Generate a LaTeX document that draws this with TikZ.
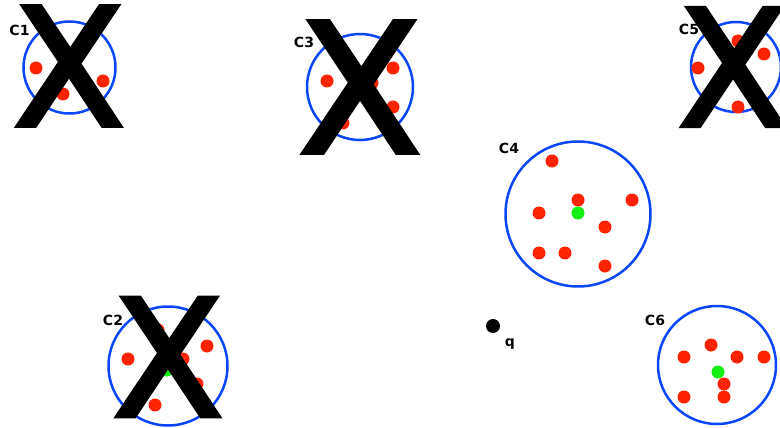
\documentclass[tikz,border=0pt]{standalone}
\usepackage{fontspec}
\setmainfont{DejaVu Sans}
\newfontfamily\crossfont[FakeBold=2.5]{DejaVu Sans}
\usepackage{xcolor}

\definecolor{ringblue}{RGB}{10,70,250}
\definecolor{ptred}{RGB}{255,35,0}
\definecolor{ctrgreen}{RGB}{20,240,20}

\begin{document}
\begin{tikzpicture}[x=1pt,y=-1pt,
  ring/.style={draw=ringblue,line width=2.5pt,circle,inner sep=0pt,minimum size=#1},
  pt/.style={fill=ptred,circle,inner sep=0pt,minimum size=13pt},
  ctr/.style={fill=ctrgreen,circle,inner sep=0pt,minimum size=13pt},
  qpt/.style={fill=black,circle,inner sep=0pt,minimum size=14pt},
  lbl/.style={font=\fontsize{14}{14}\selectfont\bfseries,inner sep=0pt},
  cross/.style={font=\fontsize{#1}{#1}\selectfont\crossfont,inner sep=0pt}]

\useasboundingbox (0,0) rectangle (780,428);

% C1
\node[ring=92pt] (c1) at (69.5,67.5) {};
\node[pt] (c1a) at (36,68) {};
\node[pt] (c1b) at (103,81) {};
\node[pt] (c1c) at (63,94) {};
\node[lbl] (c1lbl) at (19.5,30) {C1};

% C3
\node[ring=106pt] (c3) at (360,87) {};
\node[pt] (c3a) at (327,81) {};
\node[pt] (c3b) at (393,68) {};
\node[pt] (c3c) at (393,107) {};
\node[pt] (c3d) at (343,123) {};
\node[pt] (c3e) at (372,83) {};
\node[lbl] (c3lbl) at (304,42) {C3};

% C5
\node[ring=90pt] (c5) at (736,67) {};
\node[pt] (c5a) at (738,41) {};
\node[pt] (c5b) at (764,54) {};
\node[pt] (c5c) at (698,68) {};
\node[pt] (c5d) at (738,107) {};
\node[lbl] (c5lbl) at (689,29) {C5};

% C4
\node[ring=145pt] (c4) at (578,214) {};
\node[pt] (c4a) at (552,161) {};
\node[pt] (c4b) at (578,200) {};
\node[pt] (c4c) at (632,200) {};
\node[pt] (c4d) at (539,213) {};
\node[pt] (c4e) at (605,227) {};
\node[pt] (c4f) at (539,253) {};
\node[pt] (c4g) at (565,253) {};
\node[pt] (c4h) at (605,266) {};
\node[ctr] (c4ctr) at (578,213) {};
\node[lbl] (c4lbl) at (509,148) {C4};

% C2
\node[ring=119pt] (c2) at (168,366) {};
\node[pt] (c2a) at (128,359) {};
\node[pt] (c2b) at (207,346) {};
\node[pt] (c2c) at (183,359) {};
\node[pt] (c2d) at (155,405) {};
\node[pt] (c2e) at (197,384) {};
\node[pt] (c2f) at (158,330) {};
\node[ctr] (c2ctr) at (167,370) {};
\node[lbl] (c2lbl) at (113,320) {C2};

% C6
\node[ring=118pt] (c6) at (717,365) {};
\node[pt] (c6a) at (711,345) {};
\node[pt] (c6b) at (684,357) {};
\node[pt] (c6c) at (737,357) {};
\node[pt] (c6d) at (764,357) {};
\node[pt] (c6e) at (724,384) {};
\node[pt] (c6f) at (684,397) {};
\node[pt] (c6g) at (724,397) {};
\node[ctr] (c6ctr) at (718,372) {};
\node[lbl] (c6lbl) at (655,320) {C6};

% query point
\node[qpt] (q) at (493,326) {};
\node[lbl] (qlbl) at (510,344) {q};

% crossed out clusters
\node[cross=164] (x1) at (69,66) {X};
\node[cross=180] (x3) at (360,87) {X};
\node[cross=162] (x5) at (733,67) {X};
\node[cross=163] (x2) at (168,357) {X};

\end{tikzpicture}
\end{document}
